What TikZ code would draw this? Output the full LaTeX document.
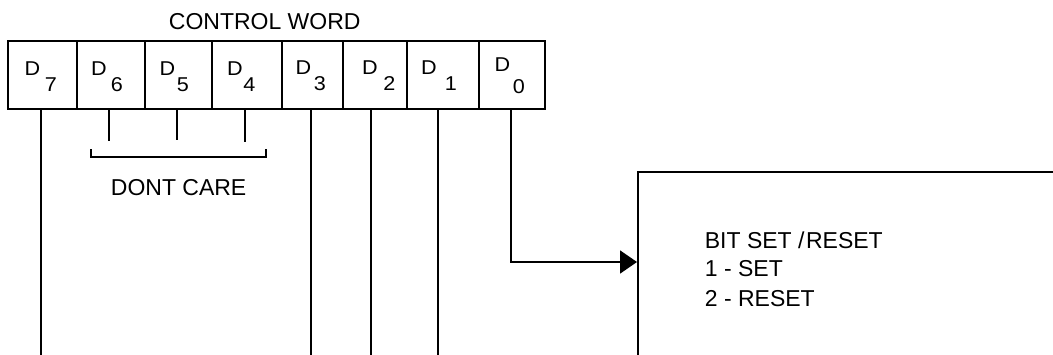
\documentclass[tikz,border=0pt]{standalone}
\usepackage{fontspec}
\setmainfont{Liberation Sans}
\usetikzlibrary{arrows.meta}
\begin{document}
\begin{tikzpicture}[x=1pt,y=-1pt,line width=1.8pt,
  cell/.style={draw,inner sep=0pt,minimum height=68pt},
  lbl/.style={inner sep=0pt,font=\fontsize{20}{22}\selectfont\addfontfeatures{FakeStretch=1.08}},
  txt/.style={inner sep=0pt,anchor=west,font=\fontsize{23}{27}\selectfont},
  link/.style={draw,line width=1.8pt}]
\clip (0,0) rectangle (1053,354);
\fill[white] (0,0) rectangle (1053,354);
% title
\node[txt] (title) at (168,22) {CONTROL WORD};
% cells
\node[cell,minimum width=69pt] (c7) at (42.5,75) {};
\node[cell,minimum width=68pt] (c6) at (111,75) {};
\node[cell,minimum width=67pt] (c5) at (178.5,75) {};
\node[cell,minimum width=70pt] (c4) at (247,75) {};
\node[cell,minimum width=61pt] (c3) at (312.5,75) {};
\node[cell,minimum width=64pt] (c2) at (375,75) {};
\node[cell,minimum width=72pt] (c1) at (443,75) {};
\node[cell,minimum width=66pt] (c0) at (512,75) {};
% labels
\node[lbl] (d7) at (32.5,69) {D}; \node[lbl] (s7) at (51,85) {7};
\node[lbl] (d6) at (99,69) {D}; \node[lbl] (s6) at (117,85) {6};
\node[lbl] (d5) at (167.5,69) {D}; \node[lbl] (s5) at (183,85) {5};
\node[lbl] (d4) at (235,69) {D}; \node[lbl] (s4) at (249.5,85) {4};
\node[lbl] (d3) at (303.5,68) {D}; \node[lbl] (s3) at (320,84) {3};
\node[lbl] (d2) at (370,68) {D}; \node[lbl] (s2) at (389.5,84) {2};
\node[lbl] (d1) at (429,68) {D}; \node[lbl] (s1) at (451,84) {1};
\node[lbl] (d0) at (502.5,65) {D}; \node[lbl] (s0) at (519,87) {0};
% don't care ticks and bracket
\coordinate (k6) at (109,141);
\coordinate (k5) at (177,140);
\coordinate (k4) at (245,142);
\draw[link] (c6.south -| k6) -- (k6);
\draw[link] (c5.south -| k5) -- (k5);
\draw[link] (c4.south -| k4) -- (k4);
\coordinate (bl) at (91,149);
\coordinate (br) at (266,149);
\draw[link] (bl) -- ++(0,8) -| (br);
\node[txt] (dc) at (110,188) {DONT CARE};
% long lines
\coordinate (e7) at (41,360);
\coordinate (e3) at (311,360);
\coordinate (e2) at (371,360);
\coordinate (e1) at (438,360);
\draw[link] (c7.south -| e7) -- (e7);
\draw[link] (c3.south -| e3) -- (e3);
\draw[link] (c2.south -| e2) -- (e2);
\draw[link] (c1.south -| e1) -- (e1);
% big box
\node[draw,inner sep=0pt,minimum width=700pt,minimum height=400pt,anchor=north west] (bsr) at (637,171) {};
\node[txt] (t1) at (704,240) {BIT SET /\kern1.5pt RESET};
\node[txt] (t2) at (704,269) {1 - SET};
\node[txt] (t3) at (704,298.5) {2 - RESET};
% D0 arrow
\coordinate (turn) at (511,262);
\draw[link,-{Triangle[length=17pt,width=23pt]}] (c0.south -| turn) -- (turn) -- (turn -| bsr.west);
\end{tikzpicture}
\end{document}
